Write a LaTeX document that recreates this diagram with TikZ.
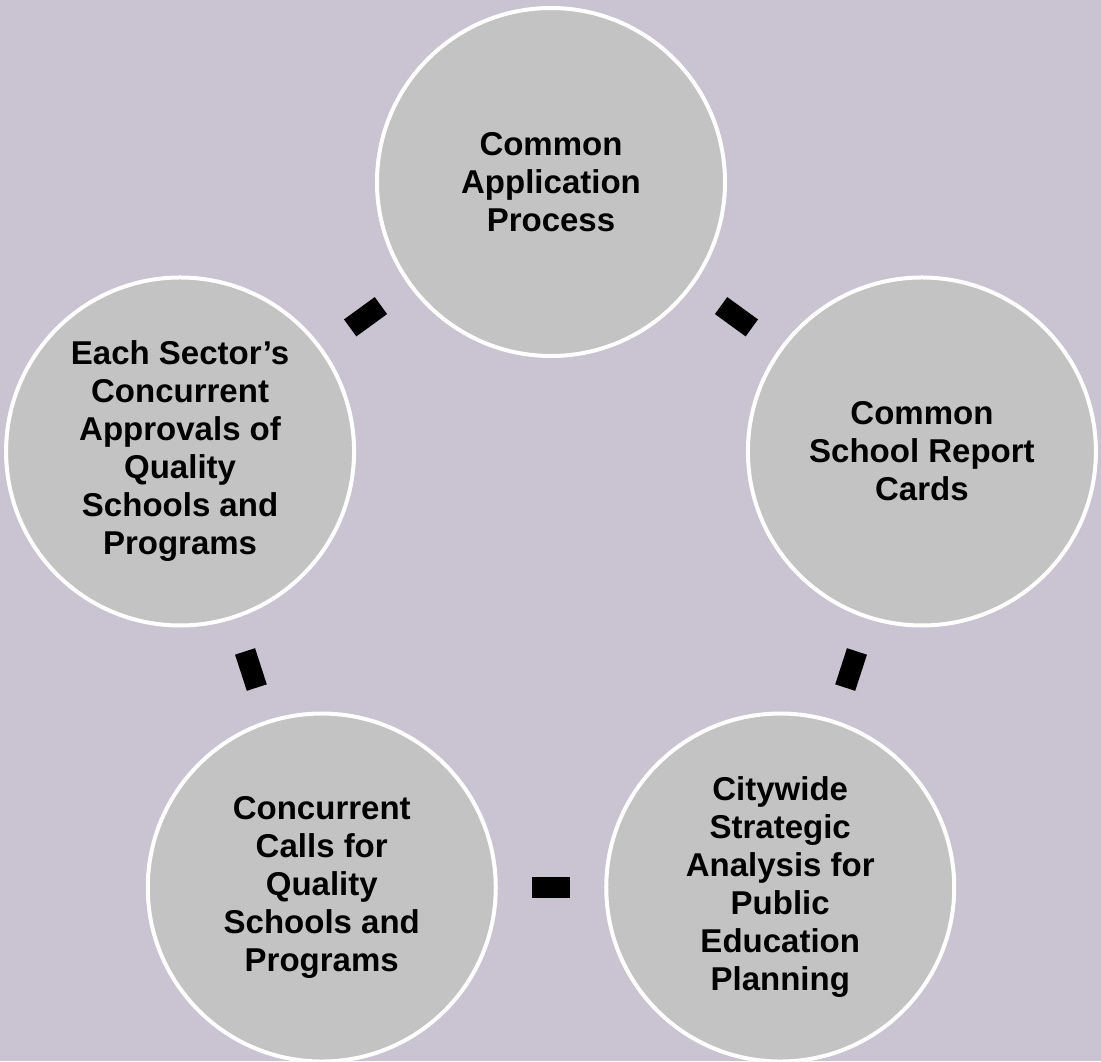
\documentclass[tikz,border=0pt]{standalone}
\usepackage{fontspec}
\setmainfont{Liberation Sans}
\usetikzlibrary{positioning}
\definecolor{backdrop}{HTML}{C9C3D2}
\definecolor{disc}{HTML}{C3C3C4}
\tikzset{
  topic/.style={circle, draw=white, line width=2pt, fill=disc, minimum size=174pt,
    inner sep=0pt, align=center, font=\bfseries\fontsize{16.5pt}{19pt}\selectfont},
  link/.style={fill=black, minimum width=19pt, minimum height=10.5pt, inner sep=0pt, sloped},
}

\begin{document}
\begin{tikzpicture}[x=0.5pt, y=0.5pt]
    \fill[backdrop] (-551,-489) rectangle (550,572);
    \useasboundingbox (-551,-489) rectangle (550,572);
    \node[topic] (app) at (90:390) {Common\\Application\\Process};
    \node[topic] (cards) at (18:390) {Common\\School Report\\Cards};
    \node[topic] (plan) at (-54:390) {Citywide\\Strategic\\Analysis for\\Public\\Education\\Planning};
    \node[topic] (calls) at (-126:390) {Concurrent\\Calls for\\Quality\\Schools and\\Programs};
    \node[topic] (approvals) at (162:390) {Each Sector’s\\Concurrent\\Approvals of\\Quality\\Schools and\\Programs};
    \path (app) -- node[link] (l1) {} (cards);
    \path (cards) -- node[link] (l2) {} (plan);
    \path (plan) -- node[link] (l3) {} (calls);
    \path (calls) -- node[link] (l4) {} (approvals);
    \path (approvals) -- node[link] (l5) {} (app);
  \end{tikzpicture}
\end{document}
